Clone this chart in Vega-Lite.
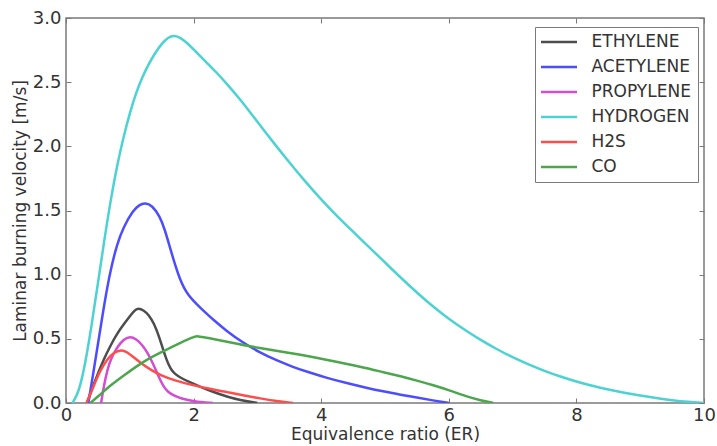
{
  "$schema": "https://vega.github.io/schema/vega-lite/v6.json",
  "autosize": {"type": "none"},
  "width": 638,
  "height": 385,
  "padding": {"left": 66, "top": 18, "right": 13, "bottom": 43},
  "config": {
    "font": "DejaVu Sans",
    "view": {"stroke": "#7a7a7a", "strokeWidth": 1.5},
    "axis": {"labelFont": "DejaVu Sans", "titleFont": "DejaVu Sans", "labelColor": "#333333", "titleColor": "#333333", "titleFontWeight": "normal", "grid": false, "domain": false, "tickColor": "#7a7a7a", "tickSize": -5, "tickWidth": 1}
  },
  "datasets": {
    "curves": [
      {"gas": "ETHYLENE", "er": 0.33, "v": 0},
      {"gas": "ETHYLENE", "er": 0.4, "v": 0.1},
      {"gas": "ETHYLENE", "er": 0.5, "v": 0.23},
      {"gas": "ETHYLENE", "er": 0.6, "v": 0.35},
      {"gas": "ETHYLENE", "er": 0.7, "v": 0.45},
      {"gas": "ETHYLENE", "er": 0.8, "v": 0.54},
      {"gas": "ETHYLENE", "er": 0.9, "v": 0.61},
      {"gas": "ETHYLENE", "er": 1.0, "v": 0.675},
      {"gas": "ETHYLENE", "er": 1.07, "v": 0.72},
      {"gas": "ETHYLENE", "er": 1.13, "v": 0.74},
      {"gas": "ETHYLENE", "er": 1.22, "v": 0.722},
      {"gas": "ETHYLENE", "er": 1.3, "v": 0.685},
      {"gas": "ETHYLENE", "er": 1.38, "v": 0.62},
      {"gas": "ETHYLENE", "er": 1.45, "v": 0.53},
      {"gas": "ETHYLENE", "er": 1.52, "v": 0.42},
      {"gas": "ETHYLENE", "er": 1.58, "v": 0.33},
      {"gas": "ETHYLENE", "er": 1.64, "v": 0.265},
      {"gas": "ETHYLENE", "er": 1.7, "v": 0.228},
      {"gas": "ETHYLENE", "er": 1.8, "v": 0.195},
      {"gas": "ETHYLENE", "er": 1.95, "v": 0.16},
      {"gas": "ETHYLENE", "er": 2.1, "v": 0.127},
      {"gas": "ETHYLENE", "er": 2.3, "v": 0.087},
      {"gas": "ETHYLENE", "er": 2.52, "v": 0.05},
      {"gas": "ETHYLENE", "er": 2.75, "v": 0.02},
      {"gas": "ETHYLENE", "er": 3.0, "v": 0},

      {"gas": "ACETYLENE", "er": 0.35, "v": 0},
      {"gas": "ACETYLENE", "er": 0.45, "v": 0.3},
      {"gas": "ACETYLENE", "er": 0.53, "v": 0.55},
      {"gas": "ACETYLENE", "er": 0.6, "v": 0.77},
      {"gas": "ACETYLENE", "er": 0.69, "v": 1.02},
      {"gas": "ACETYLENE", "er": 0.8, "v": 1.24},
      {"gas": "ACETYLENE", "er": 0.9, "v": 1.37},
      {"gas": "ACETYLENE", "er": 1.05, "v": 1.5},
      {"gas": "ACETYLENE", "er": 1.15, "v": 1.545},
      {"gas": "ACETYLENE", "er": 1.24, "v": 1.56},
      {"gas": "ACETYLENE", "er": 1.35, "v": 1.54},
      {"gas": "ACETYLENE", "er": 1.47, "v": 1.455},
      {"gas": "ACETYLENE", "er": 1.55, "v": 1.35},
      {"gas": "ACETYLENE", "er": 1.63, "v": 1.21},
      {"gas": "ACETYLENE", "er": 1.72, "v": 1.06},
      {"gas": "ACETYLENE", "er": 1.79, "v": 0.96},
      {"gas": "ACETYLENE", "er": 1.85, "v": 0.895},
      {"gas": "ACETYLENE", "er": 1.92, "v": 0.84},
      {"gas": "ACETYLENE", "er": 2.0, "v": 0.795},
      {"gas": "ACETYLENE", "er": 2.1, "v": 0.745},
      {"gas": "ACETYLENE", "er": 2.2, "v": 0.698},
      {"gas": "ACETYLENE", "er": 2.3, "v": 0.652},
      {"gas": "ACETYLENE", "er": 2.52, "v": 0.56},
      {"gas": "ACETYLENE", "er": 2.75, "v": 0.478},
      {"gas": "ACETYLENE", "er": 3.04, "v": 0.392},
      {"gas": "ACETYLENE", "er": 3.3, "v": 0.332},
      {"gas": "ACETYLENE", "er": 3.56, "v": 0.28},
      {"gas": "ACETYLENE", "er": 3.8, "v": 0.24},
      {"gas": "ACETYLENE", "er": 4.09, "v": 0.195},
      {"gas": "ACETYLENE", "er": 4.4, "v": 0.155},
      {"gas": "ACETYLENE", "er": 4.71, "v": 0.118},
      {"gas": "ACETYLENE", "er": 5.0, "v": 0.088},
      {"gas": "ACETYLENE", "er": 5.24, "v": 0.065},
      {"gas": "ACETYLENE", "er": 5.5, "v": 0.042},
      {"gas": "ACETYLENE", "er": 5.75, "v": 0.02},
      {"gas": "ACETYLENE", "er": 6.0, "v": 0},

      {"gas": "PROPYLENE", "er": 0.55, "v": 0},
      {"gas": "PROPYLENE", "er": 0.6, "v": 0.15},
      {"gas": "PROPYLENE", "er": 0.65, "v": 0.26},
      {"gas": "PROPYLENE", "er": 0.7, "v": 0.34},
      {"gas": "PROPYLENE", "er": 0.8, "v": 0.435},
      {"gas": "PROPYLENE", "er": 0.9, "v": 0.495},
      {"gas": "PROPYLENE", "er": 1.0, "v": 0.52},
      {"gas": "PROPYLENE", "er": 1.1, "v": 0.5},
      {"gas": "PROPYLENE", "er": 1.2, "v": 0.45},
      {"gas": "PROPYLENE", "er": 1.28, "v": 0.39},
      {"gas": "PROPYLENE", "er": 1.35, "v": 0.32},
      {"gas": "PROPYLENE", "er": 1.42, "v": 0.245},
      {"gas": "PROPYLENE", "er": 1.48, "v": 0.175},
      {"gas": "PROPYLENE", "er": 1.54, "v": 0.12},
      {"gas": "PROPYLENE", "er": 1.6, "v": 0.085},
      {"gas": "PROPYLENE", "er": 1.7, "v": 0.055},
      {"gas": "PROPYLENE", "er": 1.8, "v": 0.035},
      {"gas": "PROPYLENE", "er": 2.0, "v": 0.013},
      {"gas": "PROPYLENE", "er": 2.3, "v": 0},

      {"gas": "HYDROGEN", "er": 0.1, "v": 0},
      {"gas": "HYDROGEN", "er": 0.2, "v": 0.08},
      {"gas": "HYDROGEN", "er": 0.3, "v": 0.3},
      {"gas": "HYDROGEN", "er": 0.4, "v": 0.6},
      {"gas": "HYDROGEN", "er": 0.5, "v": 0.93},
      {"gas": "HYDROGEN", "er": 0.6, "v": 1.27},
      {"gas": "HYDROGEN", "er": 0.7, "v": 1.58},
      {"gas": "HYDROGEN", "er": 0.8, "v": 1.85},
      {"gas": "HYDROGEN", "er": 0.9, "v": 2.07},
      {"gas": "HYDROGEN", "er": 1.0, "v": 2.26},
      {"gas": "HYDROGEN", "er": 1.1, "v": 2.42},
      {"gas": "HYDROGEN", "er": 1.2, "v": 2.545},
      {"gas": "HYDROGEN", "er": 1.3, "v": 2.645},
      {"gas": "HYDROGEN", "er": 1.4, "v": 2.73},
      {"gas": "HYDROGEN", "er": 1.5, "v": 2.8},
      {"gas": "HYDROGEN", "er": 1.6, "v": 2.85},
      {"gas": "HYDROGEN", "er": 1.7, "v": 2.865},
      {"gas": "HYDROGEN", "er": 1.8, "v": 2.845},
      {"gas": "HYDROGEN", "er": 1.9, "v": 2.805},
      {"gas": "HYDROGEN", "er": 2.0, "v": 2.755},
      {"gas": "HYDROGEN", "er": 2.1, "v": 2.705},
      {"gas": "HYDROGEN", "er": 2.2, "v": 2.655},
      {"gas": "HYDROGEN", "er": 2.35, "v": 2.58},
      {"gas": "HYDROGEN", "er": 2.5, "v": 2.5},
      {"gas": "HYDROGEN", "er": 2.75, "v": 2.355},
      {"gas": "HYDROGEN", "er": 3.0, "v": 2.19},
      {"gas": "HYDROGEN", "er": 3.25, "v": 2.03},
      {"gas": "HYDROGEN", "er": 3.5, "v": 1.875},
      {"gas": "HYDROGEN", "er": 3.75, "v": 1.725},
      {"gas": "HYDROGEN", "er": 4.0, "v": 1.585},
      {"gas": "HYDROGEN", "er": 4.25, "v": 1.455},
      {"gas": "HYDROGEN", "er": 4.5, "v": 1.335},
      {"gas": "HYDROGEN", "er": 4.75, "v": 1.215},
      {"gas": "HYDROGEN", "er": 5.0, "v": 1.095},
      {"gas": "HYDROGEN", "er": 5.25, "v": 0.975},
      {"gas": "HYDROGEN", "er": 5.5, "v": 0.86},
      {"gas": "HYDROGEN", "er": 5.75, "v": 0.752},
      {"gas": "HYDROGEN", "er": 6.0, "v": 0.655},
      {"gas": "HYDROGEN", "er": 6.25, "v": 0.57},
      {"gas": "HYDROGEN", "er": 6.5, "v": 0.49},
      {"gas": "HYDROGEN", "er": 6.75, "v": 0.42},
      {"gas": "HYDROGEN", "er": 7.0, "v": 0.355},
      {"gas": "HYDROGEN", "er": 7.25, "v": 0.3},
      {"gas": "HYDROGEN", "er": 7.5, "v": 0.25},
      {"gas": "HYDROGEN", "er": 7.75, "v": 0.205},
      {"gas": "HYDROGEN", "er": 8.0, "v": 0.167},
      {"gas": "HYDROGEN", "er": 8.25, "v": 0.133},
      {"gas": "HYDROGEN", "er": 8.5, "v": 0.104},
      {"gas": "HYDROGEN", "er": 8.75, "v": 0.08},
      {"gas": "HYDROGEN", "er": 9.0, "v": 0.058},
      {"gas": "HYDROGEN", "er": 9.25, "v": 0.038},
      {"gas": "HYDROGEN", "er": 9.5, "v": 0.021},
      {"gas": "HYDROGEN", "er": 9.75, "v": 0.008},
      {"gas": "HYDROGEN", "er": 10.0, "v": 0},

      {"gas": "H2S", "er": 0.32, "v": 0},
      {"gas": "H2S", "er": 0.4, "v": 0.09},
      {"gas": "H2S", "er": 0.53, "v": 0.25},
      {"gas": "H2S", "er": 0.65, "v": 0.345},
      {"gas": "H2S", "er": 0.75, "v": 0.395},
      {"gas": "H2S", "er": 0.87, "v": 0.415},
      {"gas": "H2S", "er": 0.95, "v": 0.4},
      {"gas": "H2S", "er": 1.05, "v": 0.36},
      {"gas": "H2S", "er": 1.21, "v": 0.296},
      {"gas": "H2S", "er": 1.35, "v": 0.252},
      {"gas": "H2S", "er": 1.47, "v": 0.22},
      {"gas": "H2S", "er": 1.7, "v": 0.175},
      {"gas": "H2S", "er": 2.0, "v": 0.138},
      {"gas": "H2S", "er": 2.25, "v": 0.11},
      {"gas": "H2S", "er": 2.52, "v": 0.085},
      {"gas": "H2S", "er": 2.8, "v": 0.058},
      {"gas": "H2S", "er": 3.04, "v": 0.036},
      {"gas": "H2S", "er": 3.3, "v": 0.015},
      {"gas": "H2S", "er": 3.56, "v": 0},

      {"gas": "CO", "er": 0.38, "v": 0},
      {"gas": "CO", "er": 0.5, "v": 0.05},
      {"gas": "CO", "er": 0.7, "v": 0.14},
      {"gas": "CO", "er": 0.95, "v": 0.23},
      {"gas": "CO", "er": 1.2, "v": 0.32},
      {"gas": "CO", "er": 1.47, "v": 0.39},
      {"gas": "CO", "er": 1.75, "v": 0.46},
      {"gas": "CO", "er": 2.0, "v": 0.515},
      {"gas": "CO", "er": 2.05, "v": 0.522},
      {"gas": "CO", "er": 2.12, "v": 0.515},
      {"gas": "CO", "er": 2.3, "v": 0.5},
      {"gas": "CO", "er": 2.52, "v": 0.478},
      {"gas": "CO", "er": 3.0, "v": 0.43},
      {"gas": "CO", "er": 3.56, "v": 0.387},
      {"gas": "CO", "er": 4.1, "v": 0.335},
      {"gas": "CO", "er": 4.61, "v": 0.283},
      {"gas": "CO", "er": 5.0, "v": 0.237},
      {"gas": "CO", "er": 5.24, "v": 0.21},
      {"gas": "CO", "er": 5.5, "v": 0.175},
      {"gas": "CO", "er": 5.76, "v": 0.138},
      {"gas": "CO", "er": 6.0, "v": 0.1},
      {"gas": "CO", "er": 6.28, "v": 0.05},
      {"gas": "CO", "er": 6.5, "v": 0.02},
      {"gas": "CO", "er": 6.7, "v": 0}
    ]
  },
  "data": {"name": "curves"},
  "layer": [
    {
      "mark": {"type": "line", "interpolate": "basis", "strokeWidth": 2.5, "clip": true},
      "encoding": {
        "x": {"field": "er", "type": "quantitative", "scale": {"domain": [0, 10], "nice": false},
          "axis": {"title": "Equivalence ratio (ER)", "values": [0, 2, 4, 6, 8, 10], "labelFontSize": 18, "titleFontSize": 17, "labelPadding": 8.5, "labelFlush": false, "titleX": 319, "titleY": 36, "titleBaseline": "alphabetic"}},
        "y": {"field": "v", "type": "quantitative", "scale": {"domain": [0, 3], "nice": false},
          "axis": {"title": "Laminar burning velocity [m/s]", "values": [0, 0.5, 1, 1.5, 2, 2.5, 3], "format": ".1f", "labelFontSize": 18, "titleFontSize": 17, "labelPadding": 10, "labelFlush": false, "titleX": -46, "titleY": 192.5, "titleAngle": 270, "titleBaseline": "middle", "titleAlign": "center"}},
        "color": {"field": "gas", "type": "nominal", "sort": null,
          "scale": {"domain": ["ETHYLENE", "ACETYLENE", "PROPYLENE", "HYDROGEN", "H2S", "CO"], "range": ["#4d4d4d", "#4d4dff", "#d24dd2", "#4dd2d2", "#ff4d4d", "#4da64d"]},
          "legend": {"title": null, "orient": "none", "legendX": 469, "legendY": 9, "symbolType": "M-1.5,0H4.5", "symbolSize": 144, "symbolStrokeWidth": 2.5, "labelFontSize": 17, "labelColor": "#333333", "labelFont": "DejaVu Sans", "rowPadding": 7, "padding": 6.5, "labelOffset": 33, "fillColor": "white", "strokeColor": "#7a7a7a", "cornerRadius": 0}}
      }
    },
    {
      "mark": {"type": "line", "strokeOpacity": 0},
      "encoding": {
        "x": {"field": "er", "type": "quantitative", "axis": {"orient": "top", "title": null, "labels": false, "values": [0, 2, 4, 6, 8, 10]}},
        "y": {"field": "v", "type": "quantitative", "axis": {"orient": "right", "title": null, "labels": false, "values": [0, 0.5, 1, 1.5, 2, 2.5, 3]}},
        "detail": {"field": "gas"}
      }
    }
  ],
  "resolve": {"axis": {"x": "independent", "y": "independent"}}
}
